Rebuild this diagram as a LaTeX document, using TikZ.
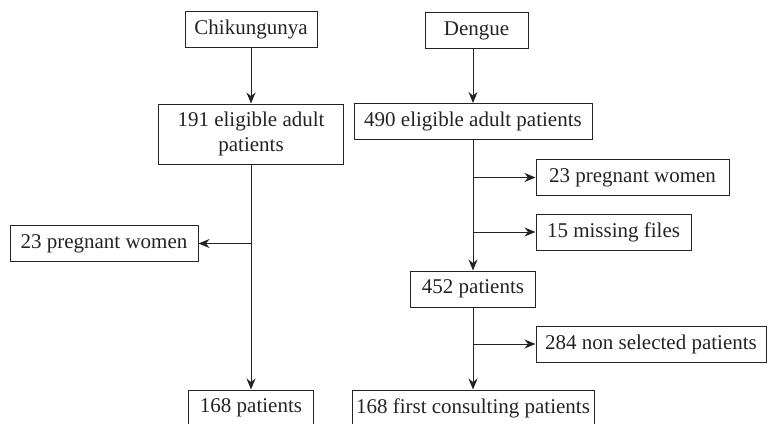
\documentclass[tikz,border=0pt]{standalone}
\usepackage{fontspec}
\setmainfont{Liberation Serif}
\usetikzlibrary{arrows.meta}

\definecolor{inkcol}{RGB}{35, 35, 35}

\begin{document}
\begin{tikzpicture}[x=1pt, y=-1pt,
    box/.style={draw=inkcol, line width=1pt, text=inkcol, inner sep=0pt,
      minimum height=36pt, font=\fontsize{21}{25}\selectfont, align=center},
    arr/.style={draw=inkcol, line width=1pt, -{Stealth[length=11pt, width=9pt]}}]
    \useasboundingbox (0,0) rectangle (768,423);

    % Chikungunya column
    \node[box, minimum width=132pt] (chik) at (251,29) {Chikungunya};
    \node[box, minimum width=185pt, minimum height=60pt] (celig) at (251,134) {191 eligible adult\\patients};
    \node[box, minimum width=188pt] (cpreg) at (104,243.5) {23 pregnant women};
    \node[box, minimum width=125pt] (cfinal) at (251,408) {168 patients};

    % Dengue column
    \node[box, minimum width=103pt] (deng) at (476.5,30.5) {Dengue};
    \node[box, minimum width=238pt] (delig) at (473,121.5) {490 eligible adult patients};
    \node[box, minimum width=193pt] (dpreg) at (632.5,177.5) {23 pregnant women};
    \node[box, minimum width=155pt] (dmiss) at (613.5,232) {15 missing files};
    \node[box, minimum width=125pt] (dpat) at (473,289) {452 patients};
    \node[box, minimum width=230pt] (dnonsel) at (651,344) {284 non selected patients};
    \node[box, minimum width=242pt] (dfinal) at (473,408) {168 first consulting patients};

    % branch points
    \coordinate (cbr) at (251,243.5);
    \coordinate (dbr1) at (473,177.5);
    \coordinate (dbr2) at (473,232);
    \coordinate (dbr3) at (473,344);

    % connectors
    \draw[arr] (chik) -- (celig);
    \draw[arr] (celig) -- (cfinal);
    \draw[arr] (cbr) -- (cpreg);

    \draw[arr] (deng.south -| delig.north) -- (delig);
    \draw[arr] (delig) -- (dpat);
    \draw[arr] (dbr1) -- (dpreg);
    \draw[arr] (dbr2) -- (dmiss);
    \draw[arr] (dpat) -- (dfinal);
    \draw[arr] (dbr3) -- (dnonsel);
\end{tikzpicture}
\end{document}
